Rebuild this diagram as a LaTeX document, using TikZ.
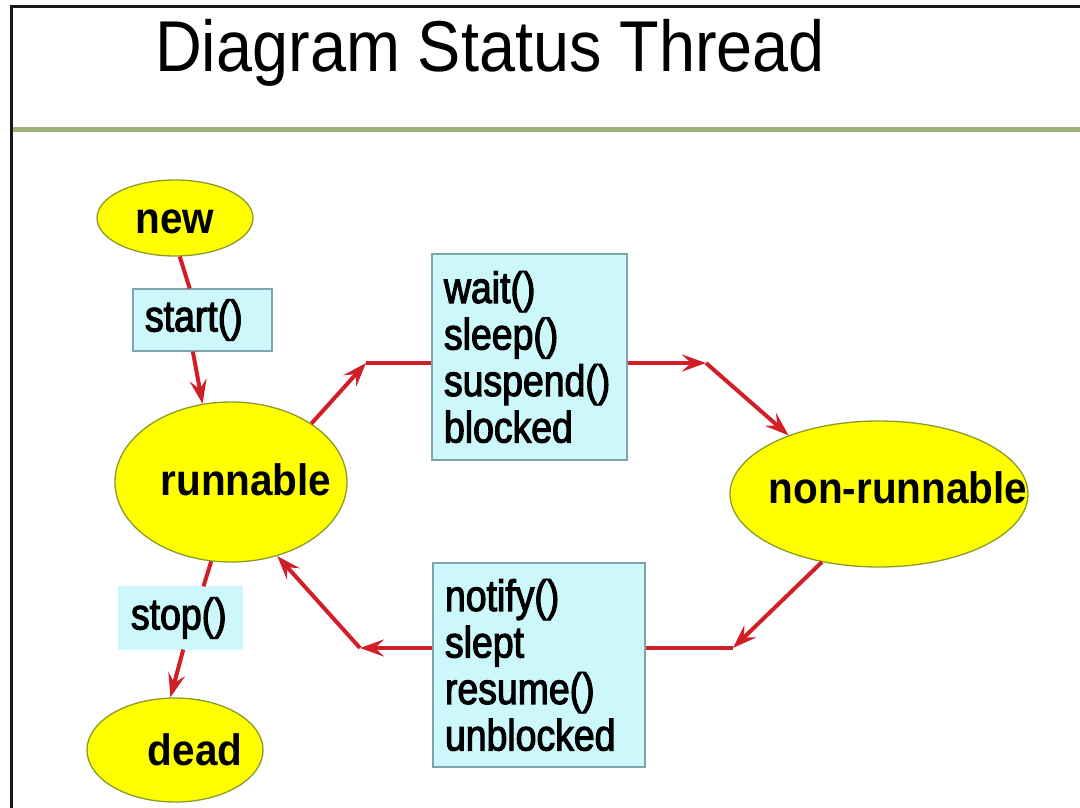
\documentclass[tikz,border=0pt]{standalone}
\usepackage{fontspec}
\usetikzlibrary{shapes.geometric,arrows.meta,calc}
\setmainfont{Liberation Sans}
\newfontfamily\titlefont[FakeStretch=0.9]{Liberation Sans}
\newfontfamily\statefont[FakeStretch=0.92]{Liberation Sans}
\newfontfamily\callfont[FakeStretch=0.85,FakeBold=2.5]{Liberation Sans}

\definecolor{stateyellow}{HTML}{FFFF00}
\definecolor{stateedge}{HTML}{8C9A2A}
\definecolor{callfill}{HTML}{CCF8FB}
\definecolor{calledge}{HTML}{7FA3AC}
\definecolor{flowred}{HTML}{D01F27}
\definecolor{rulegreen}{HTML}{9CB07A}

\begin{document}
\begin{tikzpicture}[x=1pt,y=-1pt,
  state/.style={ellipse, draw=stateedge, line width=1.3pt, fill=stateyellow,
    inner sep=0pt, font=\statefont\bfseries\fontsize{44}{46}\selectfont},
  call/.style={rectangle, draw=calledge, line width=1.2pt, fill=callfill,
    inner xsep=12pt, inner ysep=0pt, align=left,
    font=\callfont\fontsize{44}{46.5}\selectfont},
  flow/.style={draw=flowred, line width=4pt},
  arrowed/.style={-{Stealth[length=24pt 0 0,width=17pt 0 0,inset=9pt 0]}}
]
\useasboundingbox (0,0) rectangle (1080,808);

% frame and rule under the heading
\draw[line width=3pt, black!90] (11.5,808) -- (11.5,6.5) -- (1080,6.5);
\draw[line width=4.5pt, rulegreen] (13,129.5) -- (1080,129.5);

\node[anchor=base west, inner sep=0pt,
  font=\titlefont\fontsize{72}{72}\selectfont] (title) at (155,72) {Diagram Status Thread};

% thread states
\node[state, minimum width=156pt, minimum height=76pt] (new) at (175,218)
  {\makebox[0pt]{\raisebox{-15pt}[0pt][0pt]{new}}};
\node[state, minimum width=232pt, minimum height=160pt] (runnable) at (231,482)
  {\makebox[0pt]{\hspace{30pt}\raisebox{-13pt}[0pt][0pt]{runnable}}};
\node[state, minimum width=298pt, minimum height=146pt] (nonrun) at (879,494)
  {\makebox[0pt]{\hspace{38pt}\raisebox{-9pt}[0pt][0pt]{non-runnable}}};
\node[state, minimum width=176pt, minimum height=104pt] (dead) at (175,750)
  {\makebox[0pt]{\hspace{40pt}\raisebox{-15pt}[0pt][0pt]{dead}}};

% transitions
\node[call, minimum width=139pt, minimum height=62pt, text width=115pt] (start) at (202.5,320) {start()};
\node[call, draw=callfill, minimum width=123pt, minimum height=62pt, text width=99pt] (stop) at (180.5,618) {stop()};
\node[call, minimum width=195pt, minimum height=206pt, text width=171pt] (wait) at (529.5,357)
  {wait()\\sleep()\\suspend()\\blocked};
\node[call, minimum width=212pt, minimum height=204pt, text width=188pt] (notify) at (539,665)
  {notify()\\slept\\resume()\\unblocked};

% connectors
\coordinate (c1) at (366,363);
\coordinate (c2) at (706,363);
\coordinate (c3) at (733,648);
\coordinate (c4) at (360,648);

\draw[flow] (new.-83) -- (start.112);
\draw[flow, arrowed] (start.-107) -- (runnable.110);
\draw[flow, arrowed] (runnable.36) -- (c1);
\draw[flow] (c1) -- (c1 -| wait.west);
\draw[flow, arrowed] (c1 -| wait.east) -- (c2);
\draw[flow, arrowed] (c2) -- (nonrun.147);
\draw[flow, arrowed] (nonrun.-130) -- (c3);
\draw[flow] (c3) -- (c3 -| notify.east);
\draw[flow, arrowed] (c4 -| notify.west) -- (c4);
\draw[flow, arrowed] (c4) -- (runnable.-58);
\draw[flow] (runnable.-104) -- (stop.54);
\draw[flow, arrowed] (stop.-85) -- (dead.95);
\end{tikzpicture}
\end{document}
